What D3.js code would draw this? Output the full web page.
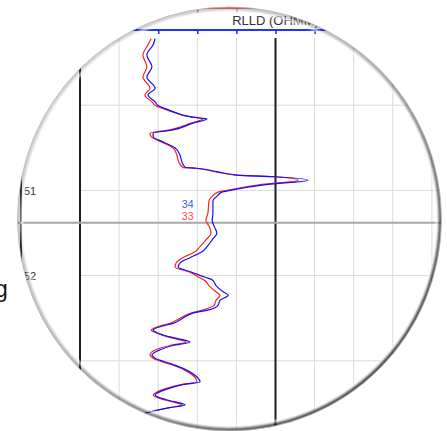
<!DOCTYPE html>
<html>
<head>
<meta charset="utf-8">
<script src="https://cdn.jsdelivr.net/npm/d3@7"></script>
<style>
  body { margin: 0; background: #fff; overflow: hidden; }
  svg { display: block; font-family: "Liberation Sans", Arial, sans-serif; }
  .grid line { stroke: #d9d9d9; stroke-width: 1; }
</style>
</head>
<body>
<div id="chart"></div>
<script>
// DATA (depth in m, resistivity in track units)
var depths = [49.22, 49.29, 49.41, 49.55, 49.67, 49.80, 49.88, 49.96, 50.00, 50.06,
  50.14, 50.16, 50.21, 50.29, 50.33, 50.37, 50.43, 50.50, 50.59, 50.67,
  50.73, 50.74, 50.78, 50.82, 50.84, 50.88, 50.93, 51.00, 51.02, 51.07,
  51.12, 51.27, 51.35, 51.44, 51.50, 51.58, 51.66, 51.72, 51.79, 51.85,
  51.90, 51.96, 52.02, 52.05, 52.13, 52.19, 52.23, 52.29, 52.35, 52.40,
  52.44, 52.50, 52.56, 52.60, 52.64, 52.67, 52.72, 52.78, 52.82, 52.87,
  52.93, 52.97, 53.03, 53.05, 53.13, 53.25, 53.28, 53.32, 53.38, 53.40,
  53.46, 53.52, 53.55, 53.61, 53.70];

var rlldBlue = [19.2, 18.7, 17.1, 18.4, 17.1, 19.2, 17.4, 19.2, 19.9, 23.0,
  28.9, 32.5, 28.9, 23.8, 18.7, 18.7, 21.2, 24.3, 25.6, 26.1,
  26.9, 29.9, 35.0, 40.2, 49.9, 58.3, 48.0, 38.4, 36.3, 35.0,
  34.0, 34.0, 33.8, 34.5, 35.0, 33.8, 32.5, 31.2, 28.1, 25.6,
  25.1, 28.6, 32.0, 33.8, 35.0, 36.6, 37.9, 35.8, 35.3, 33.2,
  28.9, 26.3, 23.8, 20.5, 18.7, 19.7, 23.0, 28.1, 23.8, 20.5,
  18.4, 19.2, 23.0, 24.3, 28.1, 30.7, 26.3, 23.0, 19.7, 19.2,
  22.3, 26.9, 23.0, 17.1, 12.8];

var rlldRed = [18.2, 17.4, 16.1, 17.1, 16.1, 17.9, 16.6, 18.4, 19.2, 22.5,
  28.6, 31.5, 28.4, 23.0, 17.9, 18.2, 20.7, 23.8, 24.8, 25.3,
  26.3, 29.4, 34.5, 39.9, 49.6, 55.8, 46.5, 37.6, 35.3, 33.8,
  33.0, 32.7, 32.2, 33.2, 33.5, 32.2, 30.7, 29.4, 26.3, 24.6,
  24.3, 28.1, 30.4, 31.7, 33.2, 34.8, 35.8, 34.8, 34.3, 31.7,
  28.4, 25.6, 23.0, 19.9, 18.2, 19.4, 22.5, 27.1, 23.0, 19.4,
  17.9, 18.7, 22.3, 23.8, 27.6, 29.9, 25.8, 22.3, 19.2, 18.7,
  21.7, 26.1, 22.8, 16.9, 12.5];

var depthTicks = [49, 50, 51, 52, 53, 54];
var depthLabels = ["49", "50", "51", "52", "53", "54"];
var valueTicks = [0, 10, 20, 30, 40, 50, 60, 70, 80, 90, 100];
var trackTitle = "RLLD (OHMM)";
var cursorDepth = 51.38;

var width = 447, height = 431;
var lens = { cx: 229.5, cy: 219, r: 212 };
var trackTop = 38;

var svg = d3.select("#chart").append("svg")
  .attr("width", width)
  .attr("height", height);

var defs = svg.append("defs");
defs.append("clipPath").attr("id", "lens")
  .append("circle")
  .attr("cx", lens.cx).attr("cy", lens.cy).attr("r", lens.r);

var rim = defs.append("linearGradient").attr("id", "rim")
  .attr("x1", 0).attr("y1", 0).attr("x2", 1).attr("y2", 1);
rim.append("stop").attr("offset", "0%").attr("stop-color", "#000").attr("stop-opacity", 0.15);
rim.append("stop").attr("offset", "45%").attr("stop-color", "#000").attr("stop-opacity", 0.3);
rim.append("stop").attr("offset", "100%").attr("stop-color", "#000").attr("stop-opacity", 0.9);

defs.append("filter").attr("id", "soft")
  .attr("x", "-10%").attr("y", "-10%").attr("width", "120%").attr("height", "120%")
  .append("feGaussianBlur").attr("stdDeviation", 0.8);

// SCALES
var x = d3.scaleLinear().domain([0, 100]).range([80, 471]);
var y = d3.scaleLinear().domain([50, 53]).range([105.2, 360.8]);

// text outside the lens
svg.append("text")
  .attr("x", -5)
  .attr("y", 297)
  .style("font-size", "23px")
  .attr("fill", "#111")
  .text("g");

var g = svg.append("g").attr("clip-path", "url(#lens)");

g.append("circle")
  .attr("cx", lens.cx).attr("cy", lens.cy).attr("r", lens.r)
  .attr("fill", "#fff");

//GRID
var grid = g.append("g").attr("class", "grid");

grid.selectAll(".vgrid")
  .data(valueTicks)
  .enter().append("line")
  .attr("x1", function(d) { return x(d); })
  .attr("x2", function(d) { return x(d); })
  .attr("y1", trackTop)
  .attr("y2", height + 10);

grid.selectAll(".hgrid")
  .data(depthTicks.filter(function(d) { return y(d) > trackTop; }))
  .enter().append("line")
  .attr("x1", x(0))
  .attr("x2", x(100))
  .attr("y1", function(d) { return y(d); })
  .attr("y2", function(d) { return y(d); });

// track borders
g.selectAll(".border")
  .data([0, 50])
  .enter().append("line")
  .attr("x1", function(d) { return x(d); })
  .attr("x2", function(d) { return x(d); })
  .attr("y1", trackTop)
  .attr("y2", height + 10)
  .attr("stroke", "#1e1e1e")
  .attr("stroke-width", 2);

// depth track edge
g.append("line")
  .attr("x1", 21).attr("x2", 21)
  .attr("y1", trackTop).attr("y2", height + 10)
  .attr("stroke", "#1e1e1e")
  .attr("stroke-width", 2);

// depth labels (only those that fall inside the lens)
function inLens(px, py) {
  var dx = px - lens.cx, dy = py - lens.cy;
  return Math.sqrt(dx * dx + dy * dy) < lens.r;
}

g.selectAll(".depth")
  .data(depthTicks.filter(function(d) { return inLens(30, y(d)); }))
  .enter().append("text")
  .attr("x", 24)
  .attr("y", function(d) { return y(d) + 4.5; })
  .style("font-size", "11px")
  .attr("fill", "#333")
  .text(function(d) { return depthLabels[depthTicks.indexOf(d)]; });

// crosshair
g.append("line")
  .attr("x1", 0).attr("x2", width)
  .attr("y1", y(cursorDepth)).attr("y2", y(cursorDepth))
  .attr("stroke", "#a8a8a8")
  .attr("stroke-width", 2);

//AXES
var redAxis = g.append("g")
  .attr("transform", "translate(0,7.5)")
  .call(d3.axisBottom(x).tickValues(valueTicks).tickSize(5).tickSizeOuter(0).tickFormat(""));
redAxis.select(".domain").attr("stroke", "#ff3b3b").attr("stroke-width", 1.5);
redAxis.selectAll(".tick line").attr("stroke", "#ff3b3b").attr("stroke-width", 1.2);

var blueAxis = g.append("g")
  .attr("transform", "translate(0,29.5)")
  .call(d3.axisBottom(x).tickValues(valueTicks).tickSize(4.5).tickSizeOuter(0).tickFormat(""));
blueAxis.select(".domain").attr("stroke", "#1a35ff").attr("stroke-width", 2);
blueAxis.selectAll(".tick line").attr("stroke", "#1a35ff").attr("stroke-width", 1.6);

g.append("text")
  .attr("x", x(50))
  .attr("y", 25)
  .attr("text-anchor", "middle")
  .style("font-size", "13px")
  .attr("fill", "#333")
  .text(trackTitle);

//CURVES
var redData = depths.map(function(d, i) { return { d: d, v: rlldRed[i] }; });
var blueData = depths.map(function(d, i) { return { d: d, v: rlldBlue[i] }; });

var line = d3.line()
  .x(function(d) { return x(d.v); })
  .y(function(d) { return y(d.d); })
  .curve(d3.curveMonotoneY);

g.append("path")
  .datum(redData)
  .attr("fill", "none")
  .attr("stroke", "#ff2020")
  .attr("stroke-width", 1.2)
  .attr("d", line);

g.append("path")
  .datum(blueData)
  .attr("fill", "none")
  .attr("stroke", "#1010ff")
  .attr("stroke-width", 1.2)
  .attr("d", line);

// readouts at cursor depth
function readAt(values) {
  var i = d3.bisectLeft(depths, cursorDepth);
  var t = (cursorDepth - depths[i - 1]) / (depths[i] - depths[i - 1]);
  return Math.round(values[i - 1] + t * (values[i] - values[i - 1]));
}

g.append("text")
  .attr("x", 193.5).attr("y", 207.5)
  .attr("text-anchor", "end")
  .style("font-size", "10.5px")
  .attr("fill", "#3a5cf0")
  .text(readAt(rlldBlue));

g.append("text")
  .attr("x", 193.5).attr("y", 219.5)
  .attr("text-anchor", "end")
  .style("font-size", "10.5px")
  .attr("fill", "#ff4a4a")
  .text(readAt(rlldRed));

// LENS RIM
g.append("circle")
  .attr("cx", lens.cx).attr("cy", lens.cy).attr("r", lens.r - 4.2)
  .attr("fill", "none")
  .attr("stroke", "#fff")
  .attr("stroke-opacity", 0.85)
  .attr("stroke-width", 2.5)
  .attr("filter", "url(#soft)");

g.append("circle")
  .attr("cx", lens.cx).attr("cy", lens.cy).attr("r", lens.r - 1.2)
  .attr("fill", "none")
  .attr("stroke", "url(#rim)")
  .attr("stroke-width", 3.5)
  .attr("filter", "url(#soft)");

svg.append("circle")
  .attr("cx", lens.cx).attr("cy", lens.cy).attr("r", lens.r)
  .attr("fill", "none")
  .attr("stroke", "#b4b4b4")
  .attr("stroke-width", 0.8);
</script>
</body>
</html>
